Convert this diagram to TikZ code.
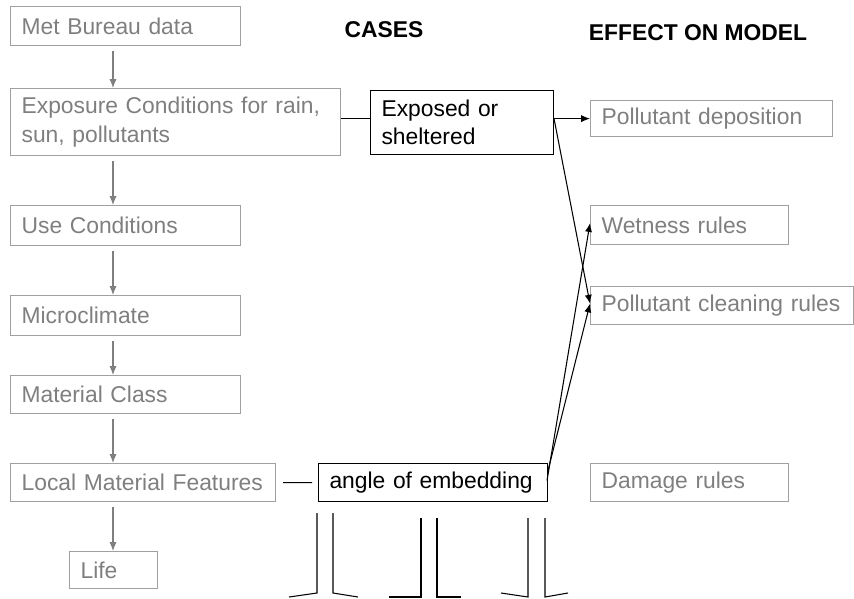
\documentclass[tikz,border=0pt]{standalone}
\usepackage{fontspec}
\setmainfont{Liberation Sans}
\usepackage{tikz}
\usetikzlibrary{arrows.meta,positioning}

\definecolor{boxgray}{HTML}{A0A0A0}
\definecolor{textgray}{HTML}{7F7F7F}

\begin{document}
\begin{tikzpicture}
    [
        x=0.02cm, y=-0.02cm,
        Field/.style={rectangle, draw=boxgray, line width=0.7pt, text=textgray, anchor=north west,
            align=left, inner xsep=0.22cm, inner ysep=0pt, font=\fontsize{13}{16}\selectfont},
        CaseBox/.style={Field, draw=black, text=black, line width=0.6pt},
        Title/.style={font=\fontsize{13}{16}\selectfont\bfseries},
        GrayArrow/.style={draw=textgray, line width=0.6pt, shorten <=0.1cm, -{Latex[length=5pt,width=4pt]}},
        Arrow/.style={line width=0.6pt, -{Latex[length=5pt,width=4pt]}}
    ]
    \useasboundingbox (0,0) rectangle (854,598);

    \node[Title] (Cases) at (384,30) {CASES};
    \node[Title] (Effect) at (698,33) {EFFECT ON MODEL};

    % left column
    \coordinate (Spine) at (113,0);
    \node[Field, text width=4.16cm, minimum height=0.78cm] (MetData) at (10,6) {Met Bureau data};
    \node[Field, text width=6.16cm, minimum height=1.34cm] (Exposure) at (10,88) {Exposure Conditions for rain,\\ sun, pollutants};
    \node[Field, text width=4.16cm, minimum height=0.8cm] (Use) at (10,205) {Use Conditions};
    \node[Field, text width=4.16cm, minimum height=0.8cm] (Micro) at (10,295) {Microclimate};
    \node[Field, text width=4.16cm, minimum height=0.76cm] (MatClass) at (10,375) {Material Class};
    \node[Field, text width=4.86cm, minimum height=0.76cm] (LocalFeat) at (10,463) {Local Material Features};
    \node[Field, text width=1.32cm, minimum height=0.74cm] (Life) at (69,551) {Life};

    \draw[GrayArrow] (MetData.south -| Spine) -- (Exposure.north -| Spine);
    \draw[GrayArrow] (Exposure.south -| Spine) -- (Use.north -| Spine);
    \draw[GrayArrow] (Use.south -| Spine) -- (Micro.north -| Spine);
    \draw[GrayArrow] (Micro.south -| Spine) -- (MatClass.north -| Spine);
    \draw[GrayArrow] (MatClass.south -| Spine) -- (LocalFeat.north -| Spine);
    \draw[GrayArrow] (LocalFeat.south -| Spine) -- (Life.north -| Spine);

    % cases
    \node[CaseBox, text width=3.22cm, minimum height=1.28cm] (Exposed) at (370,90) {Exposed or\\ sheltered};
    \node[CaseBox, text width=4.14cm, minimum height=0.76cm] (Angle) at (318,463) {angle of embedding};

    % effect on model
    \node[Field, text width=4.4cm, minimum height=0.72cm] (Deposition) at (590,100) {Pollutant deposition};
    \node[Field, text width=3.52cm, minimum height=0.78cm] (Wetness) at (590,205) {Wetness rules};
    \node[Field, text width=4.82cm, minimum height=0.76cm] (Cleaning) at (590,286) {Pollutant cleaning rules};
    \node[Field, text width=3.52cm, minimum height=0.76cm] (Damage) at (590,463) {Damage rules};

    \coordinate (Junc) at (Deposition.west -| Exposed.east);
    \draw[line width=0.6pt] (Exposure.east |- Junc) -- (Exposed.west |- Junc);
    \draw[line width=0.6pt, shorten <=0.14cm, shorten >=0.12cm] (LocalFeat.east) -- (Angle.west);
    \draw[Arrow] (Junc) -- (Deposition.west);
    \draw[Arrow] (Junc) -- ([yshift=0.04cm]Cleaning.west);
    \draw[Arrow] ([xshift=-0.02cm,yshift=0.04cm]Angle.east) -- ([yshift=0.04cm]Wetness.west);
    \draw[Arrow] ([yshift=0.24cm]Angle.east) -- ([yshift=0.04cm]Cleaning.west);

    % cut-off branches below the angle box
    \draw[line width=0.6pt] (289,597) -- (317,593) -- (317,513);
    \draw[line width=0.6pt] (358,597) -- (333,593) -- (333,513);
    \draw[line width=0.6pt] (389,597) -- (421,597) -- (421,518);
    \draw[line width=0.6pt] (461,597) -- (437,597) -- (437,518);
    \draw[line width=0.6pt] (501,593) -- (528,597) -- (528,518);
    \draw[line width=0.6pt] (568,593) -- (545,597) -- (545,518);
\end{tikzpicture}
\end{document}
